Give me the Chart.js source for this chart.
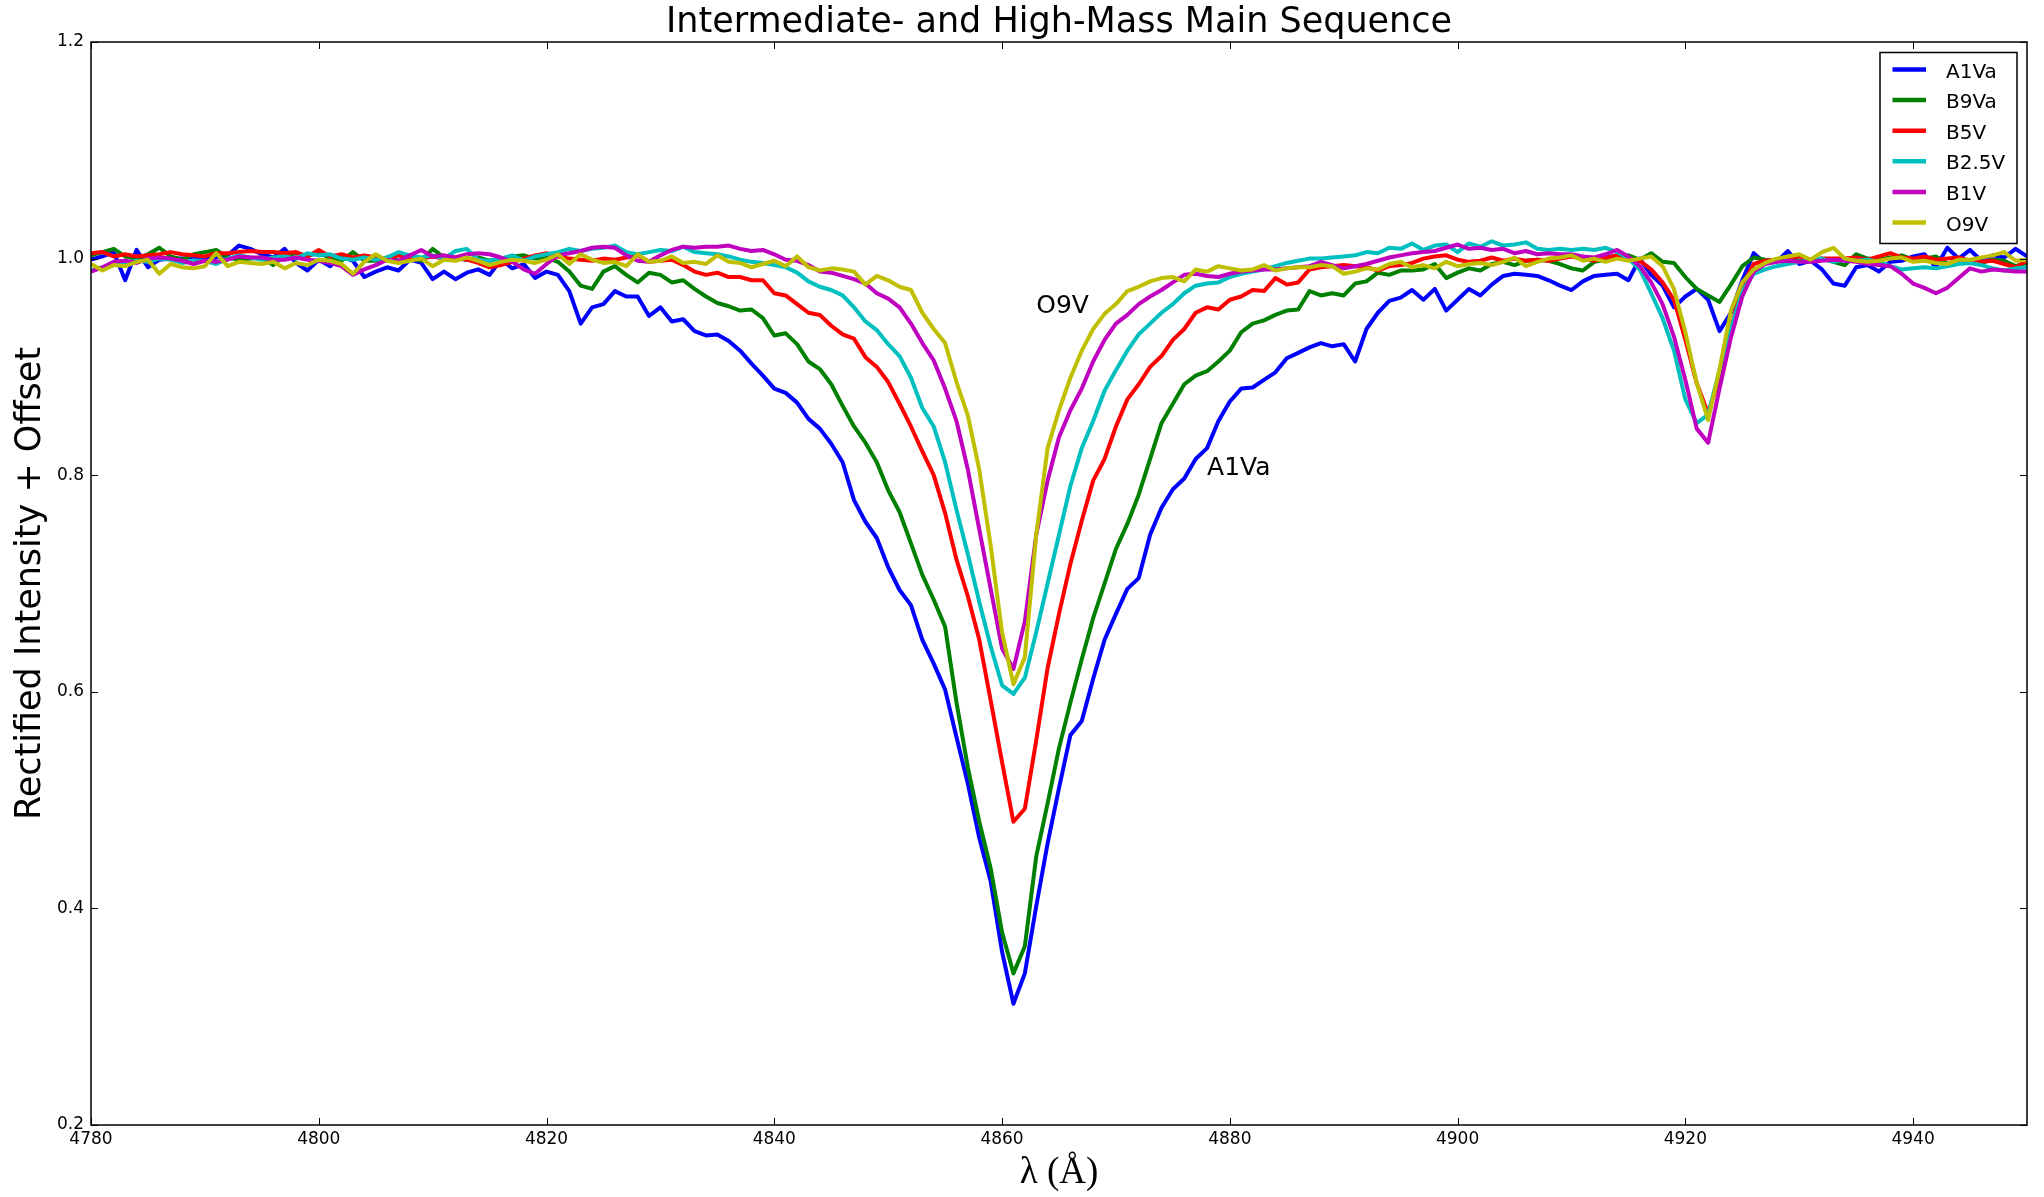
<!DOCTYPE html>
<html>
<head>
<meta charset="utf-8">
<script src="https://cdn.jsdelivr.net/npm/chart.js@4.4.1/dist/chart.umd.min.js"></script>
<style>
  html, body { margin: 0; padding: 0; background: #ffffff; }
  #wrap { width: 2044px; height: 1197px; }
</style>
</head>
<body>
<div id="wrap"><canvas id="c" width="2044" height="1197"></canvas></div>
<script>
const chartTitle = 'Intermediate- and High-Mass Main Sequence';
const xAxisTitle = 'λ (Å)';
const yAxisTitle = 'Rectified Intensity + Offset';

const wavelengths = [
  4780,4781,4782,4783,4784,4785,4786,4787,4788,4789,
  4790,4791,4792,4793,4794,4795,4796,4797,4798,4799,
  4800,4801,4802,4803,4804,4805,4806,4807,4808,4809,
  4810,4811,4812,4813,4814,4815,4816,4817,4818,4819,
  4820,4821,4822,4823,4824,4825,4826,4827,4828,4829,
  4830,4831,4832,4833,4834,4835,4836,4837,4838,4839,
  4840,4841,4842,4843,4844,4845,4846,4847,4848,4849,
  4850,4851,4852,4853,4854,4855,4856,4857,4858,4859,
  4860,4861,4862,4863,4864,4865,4866,4867,4868,4869,
  4870,4871,4872,4873,4874,4875,4876,4877,4878,4879,
  4880,4881,4882,4883,4884,4885,4886,4887,4888,4889,
  4890,4891,4892,4893,4894,4895,4896,4897,4898,4899,
  4900,4901,4902,4903,4904,4905,4906,4907,4908,4909,
  4910,4911,4912,4913,4914,4915,4916,4917,4918,4919,
  4920,4921,4922,4923,4924,4925,4926,4927,4928,4929,
  4930,4931,4932,4933,4934,4935,4936,4937,4938,4939,
  4940,4941,4942,4943,4944,4945,4946,4947,4948,4949,
  4950
];

const seriesNames = ['A1Va', 'B9Va', 'B5V', 'B2.5V', 'B1V', 'O9V'];
const seriesColors = ['#0000ff', '#008000', '#ff0000', '#00bfbf', '#bf00bf', '#bfbf00'];

const fluxA1Va = [
  0.999,1.002,1.006,0.980,1.008,0.992,0.999,1.000,1.000,1.002,
  0.999,1.001,1.003,1.012,1.009,1.004,1.001,1.009,0.996,0.989,
  0.999,0.993,1.002,0.998,0.983,0.988,0.992,0.989,0.999,0.996,
  0.981,0.988,0.981,0.987,0.990,0.985,0.999,0.991,0.995,0.982,
  0.988,0.985,0.970,0.940,0.955,0.958,0.970,0.965,0.965,0.947,
  0.955,0.942,0.944,0.933,0.929,0.930,0.924,0.915,0.903,0.892,
  0.880,0.876,0.867,0.852,0.843,0.829,0.812,0.777,0.757,0.742,
  0.715,0.694,0.680,0.648,0.626,0.602,0.558,0.515,0.465,0.425,
  0.360,0.312,0.340,0.402,0.460,0.511,0.560,0.573,0.612,0.648,
  0.672,0.695,0.705,0.745,0.770,0.787,0.797,0.815,0.825,0.850,
  0.868,0.880,0.881,0.888,0.895,0.908,0.913,0.918,0.922,0.919,
  0.921,0.905,0.935,0.950,0.961,0.964,0.971,0.962,0.972,0.952,
  0.962,0.972,0.966,0.976,0.984,0.986,0.985,0.984,0.980,0.975,
  0.971,0.979,0.984,0.985,0.986,0.980,1.000,0.985,0.975,0.955,
  0.965,0.972,0.962,0.933,0.950,0.980,1.005,0.996,0.997,1.007,
  0.995,0.998,0.990,0.977,0.975,0.992,0.994,0.988,0.997,0.998,
  1.002,1.004,0.992,1.010,1.000,1.008,0.998,1.003,1.001,1.009,
  1.002
];

const fluxB9Va = [
  1.003,1.006,1.009,1.002,1.000,1.004,1.010,1.002,0.999,1.004,
  1.006,1.008,1.001,0.999,1.000,1.001,0.994,1.003,1.005,1.002,
  1.006,1.000,0.998,1.006,0.998,0.998,1.001,0.998,1.001,0.998,
  1.009,1.001,1.000,0.999,1.001,0.998,1.000,1.002,1.003,1.000,
  1.001,0.997,0.988,0.975,0.972,0.988,0.993,0.985,0.978,0.987,
  0.985,0.978,0.980,0.972,0.965,0.959,0.956,0.952,0.953,0.945,
  0.929,0.931,0.921,0.905,0.898,0.884,0.864,0.845,0.830,0.812,
  0.786,0.766,0.737,0.708,0.685,0.660,0.590,0.530,0.480,0.437,
  0.378,0.340,0.365,0.448,0.497,0.548,0.590,0.630,0.668,0.700,
  0.732,0.755,0.782,0.815,0.848,0.866,0.884,0.892,0.896,0.905,
  0.915,0.932,0.940,0.943,0.948,0.952,0.953,0.970,0.966,0.968,
  0.966,0.977,0.979,0.987,0.985,0.989,0.989,0.990,0.995,0.982,
  0.987,0.991,0.989,0.995,0.997,0.994,0.998,0.999,0.998,0.995,
  0.991,0.989,0.997,0.999,1.001,1.003,0.999,1.005,0.997,0.996,
  0.983,0.972,0.966,0.960,0.976,0.993,1.001,0.999,0.998,1.002,
  0.998,0.998,1.000,0.997,0.994,1.004,1.000,0.999,1.001,1.003,
  0.999,1.000,1.002,0.995,0.999,0.998,0.996,0.999,0.998,0.993,
  0.996
];

const fluxB5V = [
  1.005,1.006,1.002,1.004,1.002,1.003,1.004,1.006,1.004,1.003,
  1.002,1.005,1.005,1.006,1.007,1.006,1.006,1.005,1.006,1.002,
  1.008,1.002,1.004,1.001,1.003,1.001,1.000,1.003,1.000,1.000,
  1.002,1.000,1.001,0.999,0.996,0.992,0.994,0.997,1.000,1.003,
  1.005,1.002,1.000,0.999,0.998,1.000,0.999,1.001,1.003,0.997,
  0.998,0.999,0.994,0.988,0.985,0.987,0.983,0.983,0.980,0.980,
  0.968,0.966,0.958,0.950,0.948,0.938,0.930,0.926,0.909,0.900,
  0.886,0.866,0.845,0.822,0.800,0.765,0.722,0.688,0.648,0.592,
  0.535,0.480,0.492,0.555,0.622,0.672,0.718,0.758,0.795,0.815,
  0.845,0.870,0.884,0.900,0.910,0.925,0.935,0.950,0.955,0.953,
  0.962,0.965,0.971,0.970,0.982,0.976,0.978,0.990,0.992,0.993,
  0.994,0.993,0.992,0.989,0.993,0.994,0.996,1.000,1.002,1.003,
  0.999,0.997,0.998,1.001,0.998,1.000,0.998,0.999,0.998,1.000,
  1.002,1.000,0.998,1.001,1.003,0.999,0.998,0.990,0.978,0.962,
  0.925,0.885,0.857,0.890,0.935,0.975,0.995,0.998,0.999,1.001,
  1.002,0.999,1.000,1.000,1.000,1.001,0.999,1.002,1.005,1.001,
  1.000,1.002,0.999,1.000,1.001,0.998,0.997,0.998,0.995,0.992,
  0.998
];

const fluxB25V = [
  0.989,0.992,0.994,0.996,0.998,0.997,1.000,0.999,0.996,0.998,
  0.998,0.995,1.000,1.003,1.001,0.999,1.001,1.002,1.000,1.005,
  1.003,1.004,1.000,0.999,1.001,0.999,1.001,1.006,1.003,1.001,
  1.003,1.000,1.007,1.009,0.999,0.998,1.000,1.003,0.998,1.002,
  1.004,1.006,1.009,1.007,1.009,1.010,1.012,1.006,1.004,1.006,
  1.008,1.007,1.011,1.006,1.005,1.004,1.002,0.999,0.997,0.996,
  0.994,0.992,0.987,0.979,0.974,0.971,0.966,0.955,0.942,0.934,
  0.921,0.910,0.890,0.862,0.845,0.812,0.768,0.727,0.683,0.642,
  0.606,0.598,0.613,0.655,0.700,0.745,0.790,0.825,0.850,0.878,
  0.897,0.915,0.930,0.940,0.950,0.958,0.968,0.975,0.977,0.978,
  0.983,0.986,0.988,0.990,0.993,0.996,0.998,1.000,1.000,1.001,
  1.002,1.003,1.006,1.005,1.010,1.009,1.014,1.008,1.012,1.013,
  1.006,1.014,1.011,1.016,1.012,1.013,1.015,1.009,1.008,1.009,
  1.008,1.009,1.008,1.010,1.006,1.000,0.990,0.968,0.945,0.915,
  0.870,0.848,0.856,0.897,0.935,0.970,0.986,0.990,0.993,0.995,
  0.997,0.999,1.000,0.997,0.999,0.998,0.999,0.997,0.993,0.990,
  0.991,0.992,0.991,0.993,0.995,0.996,0.994,0.991,0.989,0.991,
  0.992
];

const fluxB1V = [
  0.988,0.992,0.997,0.998,0.996,1.000,1.001,1.000,0.998,0.995,
  0.998,0.997,0.999,1.002,1.001,1.001,0.999,0.999,1.001,0.999,
  0.998,0.996,0.993,0.985,0.990,0.994,0.999,0.998,1.003,1.008,
  1.002,1.003,1.001,1.004,1.005,1.004,1.001,0.997,0.990,0.986,
  0.995,1.003,1.005,1.007,1.010,1.011,1.010,1.003,0.998,0.997,
  1.003,1.008,1.011,1.010,1.011,1.011,1.012,1.009,1.007,1.008,
  1.004,0.999,0.998,0.994,0.988,0.987,0.984,0.981,0.977,0.968,
  0.963,0.955,0.940,0.922,0.906,0.880,0.850,0.805,0.750,0.695,
  0.640,0.621,0.665,0.745,0.795,0.835,0.860,0.880,0.905,0.925,
  0.940,0.948,0.958,0.965,0.971,0.978,0.985,0.986,0.984,0.983,
  0.986,0.988,0.989,0.990,0.990,0.991,0.992,0.993,0.997,0.994,
  0.991,0.993,0.995,0.998,1.001,1.003,1.005,1.006,1.007,1.010,
  1.013,1.009,1.010,1.008,1.009,1.005,1.007,1.004,1.005,1.004,
  1.004,1.002,1.001,1.004,1.008,1.002,0.993,0.978,0.958,0.928,
  0.888,0.843,0.830,0.880,0.927,0.965,0.988,0.995,0.997,0.998,
  0.997,0.997,0.998,0.999,0.998,0.997,0.995,0.994,0.993,0.986,
  0.977,0.973,0.968,0.973,0.982,0.991,0.988,0.990,0.989,0.988,
  0.988
];

const fluxO9V = [
  0.995,0.989,0.994,0.993,0.997,0.999,0.986,0.995,0.992,0.991,
  0.993,1.005,0.993,0.997,0.996,0.995,0.997,0.991,0.996,0.994,
  0.999,0.998,0.995,0.986,0.997,1.004,0.998,0.996,0.998,1.000,
  0.993,0.999,0.998,1.001,0.998,0.994,0.997,0.999,0.998,0.996,
  0.999,1.004,0.995,1.004,0.999,0.996,0.997,0.993,1.004,0.997,
  0.998,1.002,0.996,0.997,0.995,1.003,0.997,0.996,0.992,0.995,
  0.998,0.993,1.002,0.992,0.989,0.991,0.990,0.988,0.976,0.984,
  0.980,0.974,0.971,0.950,0.935,0.922,0.886,0.855,0.805,0.735,
  0.655,0.607,0.632,0.745,0.825,0.860,0.890,0.915,0.935,0.949,
  0.958,0.970,0.974,0.979,0.982,0.983,0.979,0.990,0.988,0.993,
  0.991,0.989,0.990,0.994,0.989,0.991,0.992,0.992,0.994,0.993,
  0.986,0.988,0.991,0.990,0.995,0.997,0.992,0.994,0.991,0.997,
  0.993,0.995,0.996,0.994,0.997,1.001,0.993,0.997,1.000,1.001,
  1.003,0.998,1.000,0.997,1.000,0.998,1.000,1.002,0.993,0.972,
  0.932,0.885,0.851,0.898,0.952,0.978,0.990,0.996,1.000,1.002,
  1.004,0.999,1.006,1.010,1.000,0.998,0.997,0.998,1.000,1.001,
  0.997,0.998,0.996,0.995,0.999,0.999,1.001,1.003,1.006,0.998,
  0.999
];

const seriesValues = [fluxA1Va, fluxB9Va, fluxB5V, fluxB25V, fluxB1V, fluxO9V];

const xTickValues = [4780, 4800, 4820, 4840, 4860, 4880, 4900, 4920, 4940];
const xTickLabels = ['4780', '4800', '4820', '4840', '4860', '4880', '4900', '4920', '4940'];
const yTickValues = [0.2, 0.4, 0.6, 0.8, 1.0, 1.2];
const yTickLabels = ['0.2', '0.4', '0.6', '0.8', '1.0', '1.2'];

const annotationTexts = ['O9V', 'A1Va'];
const annotationX = [4863, 4878];
const annotationY = [0.95, 0.8];

const FONT = "'DejaVu Sans', 'Liberation Sans', sans-serif";

const datasets = seriesValues.map((vals, i) => ({
  label: seriesNames[i],
  data: wavelengths.map((w, j) => ({ x: w, y: vals[j] })),
  borderColor: seriesColors[i],
  backgroundColor: seriesColors[i],
  borderWidth: 4,
  pointRadius: 0,
  pointHoverRadius: 0,
  tension: 0,
  fill: false,
  borderJoinStyle: 'round',
  borderCapStyle: 'butt',
  order: seriesValues.length - i
}));

const decorPlugin = {
  id: 'decor',
  beforeDraw(chart) {
    const ctx = chart.ctx;
    ctx.save();
    ctx.fillStyle = '#ffffff';
    ctx.fillRect(0, 0, chart.width, chart.height);
    ctx.restore();
  },
  afterDatasetsDraw(chart) {
    const ctx = chart.ctx;
    const a = chart.chartArea;
    const xs = chart.scales.x, ys = chart.scales.y;
    ctx.save();
    // annotations
    ctx.fillStyle = '#000';
    ctx.font = '25px ' + FONT;
    ctx.textAlign = 'left';
    ctx.textBaseline = 'alphabetic';
    annotationTexts.forEach((t, i) => {
      ctx.fillText(t, xs.getPixelForValue(annotationX[i]), ys.getPixelForValue(annotationY[i]));
    });
    // frame
    ctx.strokeStyle = '#000';
    ctx.lineWidth = 1.5;
    ctx.strokeRect(a.left, a.top, a.right - a.left, a.bottom - a.top);
    // inward ticks
    ctx.lineWidth = 1;
    const tl = 7;
    ctx.beginPath();
    xTickValues.forEach(v => {
      const px = Math.round(xs.getPixelForValue(v)) + 0.5;
      ctx.moveTo(px, a.bottom); ctx.lineTo(px, a.bottom - tl);
      ctx.moveTo(px, a.top); ctx.lineTo(px, a.top + tl);
    });
    yTickValues.forEach(v => {
      const py = Math.round(ys.getPixelForValue(v)) + 0.5;
      ctx.moveTo(a.left, py); ctx.lineTo(a.left + tl, py);
      ctx.moveTo(a.right, py); ctx.lineTo(a.right - tl, py);
    });
    ctx.stroke();
    // legend
    const boxW = 137, boxH = 191;
    const bx = a.right - 10 - boxW, by = a.top + 10.5;
    ctx.fillStyle = '#ffffff';
    ctx.fillRect(bx, by, boxW, boxH);
    ctx.strokeStyle = '#000';
    ctx.lineWidth = 1.5;
    ctx.strokeRect(bx, by, boxW, boxH);
    ctx.font = '20px ' + FONT;
    ctx.textBaseline = 'alphabetic';
    ctx.textAlign = 'left';
    chart.data.datasets.forEach((ds, i) => {
      const cy = by + 17 + i * 30.6;
      ctx.strokeStyle = ds.borderColor;
      ctx.lineWidth = 4.5;
      ctx.beginPath();
      ctx.moveTo(bx + 12.5, cy);
      ctx.lineTo(bx + 46, cy);
      ctx.stroke();
      ctx.fillStyle = '#000';
      ctx.fillText(ds.label, bx + 66, cy + 8);
    });
    ctx.restore();
  }
};

new Chart(document.getElementById('c'), {
  type: 'line',
  data: { datasets },
  options: {
    responsive: false,
    animation: false,
    devicePixelRatio: 1,
    events: [],
    layout: { padding: { left: 0, right: 17, top: 0, bottom: 0 } },
    plugins: {
      legend: { display: false },
      tooltip: { enabled: false },
      title: {
        display: true,
        text: chartTitle,
        fullSize: false,
        color: '#000',
        font: { family: FONT, size: 35, weight: 'normal', lineHeight: 1 },
        padding: { top: 5, bottom: 2 }
      }
    },
    scales: {
      x: {
        type: 'linear',
        min: 4780,
        max: 4950,
        afterBuildTicks: s => { s.ticks = xTickValues.map(v => ({ value: v })); },
        afterFit: s => { s.height = 72; },
        grid: { display: false, drawTicks: false },
        border: { display: false },
        ticks: {
          color: '#000',
          font: { family: FONT, size: 17 },
          padding: 4,
          maxRotation: 0,
          autoSkip: false,
          callback: (v, i) => xTickLabels[i]
        },
        title: {
          display: true,
          text: xAxisTitle,
          color: '#000',
          font: { family: "'Liberation Serif', 'DejaVu Serif', serif", size: 37, lineHeight: 1 },
          padding: { top: 0, bottom: 5 }
        }
      },
      y: {
        type: 'linear',
        min: 0.2,
        max: 1.2,
        afterBuildTicks: s => { s.ticks = yTickValues.map(v => ({ value: v })); },
        afterFit: s => { s.width = 91; },
        grid: { display: false, drawTicks: false },
        border: { display: false },
        ticks: {
          color: '#000',
          font: { family: FONT, size: 17 },
          padding: 7,
          autoSkip: false,
          callback: (v, i) => yTickLabels[i]
        },
        title: {
          display: true,
          text: yAxisTitle,
          color: '#000',
          font: { family: FONT, size: 35, lineHeight: 1 },
          padding: { top: 13, bottom: 0 }
        }
      }
    }
  },
  plugins: [decorPlugin]
});
</script>
</body>
</html>
